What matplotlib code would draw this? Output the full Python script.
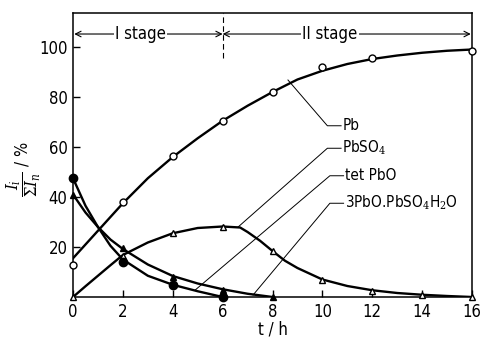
import matplotlib
matplotlib.use("Agg")
import matplotlib.pyplot as plt

plt.rcParams['font.family'] = ['DejaVu Sans']
plt.rcParams['font.stretch'] = 'condensed'
plt.rcParams['mathtext.fontset'] = 'dejavuserif'

# measured points (markers)
t_pb = [0, 2, 4, 6, 8, 10, 12, 16]
pb = [13, 38, 56.5, 70.5, 82, 92, 95.5, 98.5]
t_so4 = [0, 2, 4, 6, 8, 10, 12, 14, 16]
so4 = [0, 16.5, 25.5, 28, 18.5, 6.8, 2.5, 0.8, 0]
t_tri = [0, 2, 4, 6, 8]
tri = [41, 19.5, 8.2, 3, 0]
t_circ = [0, 2, 4, 6]
circ = [47.5, 14, 4.8, 0]

# drawn curves
tc_pb = [0, 1, 2, 3, 4, 5, 6, 7, 8, 9, 10, 11, 12, 13, 14, 15, 16]
c_pb = [15.5, 26.5, 37.5, 47.5, 56, 63.5, 70.5, 76.5, 82, 87, 90.5, 93.2, 95.2, 96.6, 97.7, 98.5, 99]
tc_so4 = [0, 0.5, 1, 1.5, 2, 3, 4, 5, 6, 6.7, 7, 7.5, 8, 8.5, 9, 10, 11, 12, 13, 14, 15, 16]
c_so4 = [0, 4.3, 8.5, 12.7, 16.8, 21.8, 25.5, 27.6, 28.2, 27.8, 26, 22.5, 18.4, 14.5, 11.6, 7, 4.4, 2.7, 1.6, 0.9, 0.4, 0]
tc_tri = [0, 0.5, 1, 1.5, 2, 3, 4, 5, 6, 7, 8]
c_tri = [41, 33.8, 28, 23, 19.2, 13, 8.4, 5.4, 3.1, 1.3, 0]
tc_circ = [0, 0.5, 1, 1.5, 2, 3, 4, 5, 6]
c_circ = [47.5, 36.5, 28, 20.5, 15, 8.5, 4.9, 2.3, 0]

# labels: (text, end point on curve, elbow)
labels = [
    ("Pb", (8.62, 86.8), (10.2, 68.5)),
    ("PbSO$_4$", (6.62, 28), (10.2, 59.5)),
    ("tet PbO", (4.9, 2.8), (10.3, 48.5)),
    ("3PbO.PbSO$_4$H$_2$O", (7.22, 0.8), (10.3, 37.5)),
]

fig = plt.figure(figsize=(4.81, 3.38), dpi=100)
ax = fig.add_axes([0.1518, 0.1213, 0.8295, 0.8402])

lw = 1.7
ax.plot(tc_pb, c_pb, color='black', lw=lw)
ax.plot(tc_so4, c_so4, color='black', lw=lw)
ax.plot(tc_tri, c_tri, color='black', lw=lw)
ax.plot(tc_circ, c_circ, color='black', lw=lw)

ax.plot(t_pb, pb, 'o', ms=5, mfc='white', mec='black', mew=1, clip_on=False, zorder=5)
ax.plot(t_so4, so4, '^', ms=5, mfc='white', mec='black', mew=1, clip_on=False, zorder=5)
ax.plot(t_tri, tri, '^', ms=5, mfc='black', mec='black', clip_on=False, zorder=5)
ax.plot(t_circ, circ, 'o', ms=6, mfc='black', mec='black', clip_on=False, zorder=5)

for txt, end, elbow in labels:
    ax.plot([end[0], elbow[0], elbow[0] + 0.55], [end[1], elbow[1], elbow[1]], color='black', lw=0.7)
    ax.text(elbow[0] + 0.6, elbow[1], txt, fontsize=11, va='center', ha='left')

# stages
ax.plot([6, 6], [95.5, 113.6], color='black', lw=0.8, ls=(0, (5, 3)))
ax.annotate('', xy=(0.05, 105.2), xytext=(6, 105.2),
            arrowprops=dict(arrowstyle='<->', lw=0.8, color='black', shrinkA=0, shrinkB=0))
ax.annotate('', xy=(6, 105.2), xytext=(15.95, 105.2),
            arrowprops=dict(arrowstyle='<->', lw=0.8, color='black', shrinkA=0, shrinkB=0))
ax.text(2.7, 105.2, 'I stage', fontsize=12, ha='center', va='center',
        bbox=dict(facecolor='white', edgecolor='none', pad=1))
ax.text(10.3, 105.2, 'II stage', fontsize=12, ha='center', va='center',
        bbox=dict(facecolor='white', edgecolor='none', pad=1))

ax.set_xlim(0, 16)
ax.set_ylim(0, 113.6)
ax.set_xticks(range(0, 17, 2))
ax.set_yticks([20, 40, 60, 80, 100])
ax.tick_params(direction='in', length=5, width=1, labelsize=12, pad=4)
for s in ax.spines.values():
    s.set_linewidth(1.1)

ax.set_xlabel('t / h', fontsize=12, labelpad=0)
ax.set_ylabel(r'$\dfrac{I_i}{\Sigma I_n}$ / %', fontsize=12)
ax.yaxis.set_label_coords(-0.075, 0.45)

fig.savefig('out.png', dpi=100)
